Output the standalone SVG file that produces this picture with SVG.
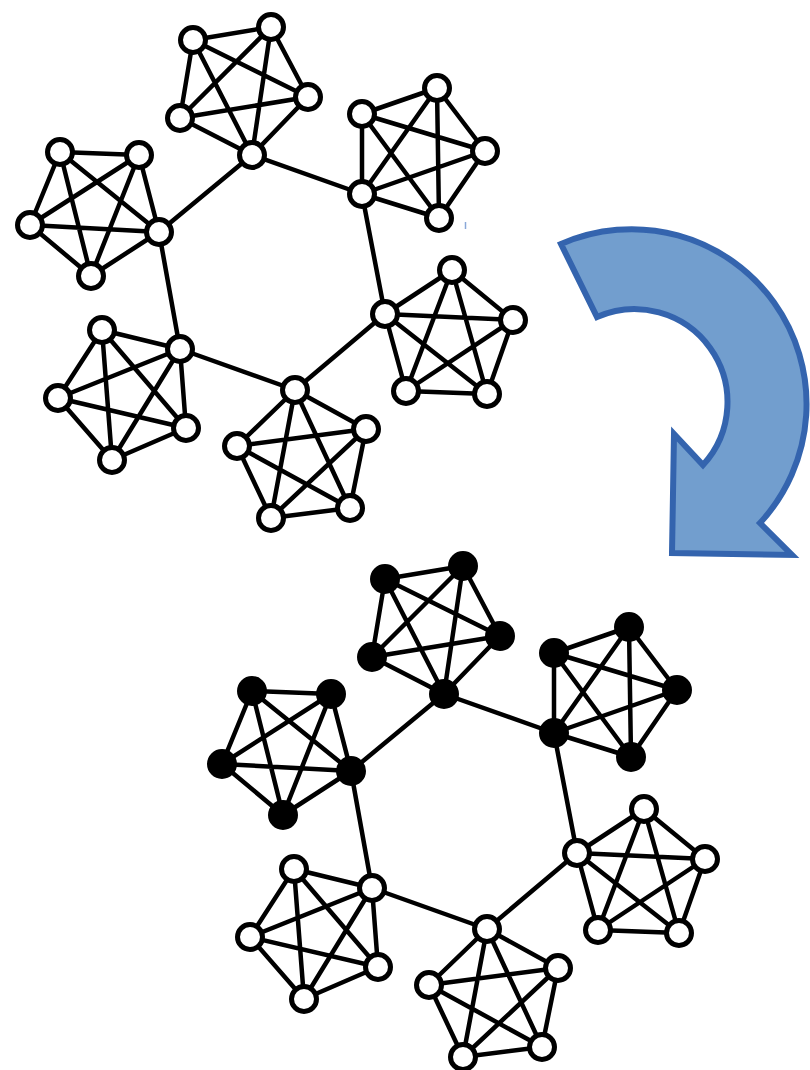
<svg xmlns="http://www.w3.org/2000/svg" width="810" height="1070" viewBox="0 0 810 1070">
<style>
.e{fill:none;stroke:#000;stroke-width:4.5;stroke-linejoin:round;stroke-linecap:round}
.w{fill:#fff;stroke:#000;stroke-width:5}
.b{fill:#000;stroke:#000;stroke-width:5}
.arrow{fill:#729ECE;stroke:#3464AE;stroke-width:6;stroke-linejoin:miter}
</style>
<defs>
<g id="edges">
<path class="e" d="M252,155L362,194L385,314L295,390L180,349L159,232Z"/>
<path class="e" d="M193,40L271,27L308,97L252,155L180,118Z M193,40L308,97L180,118L271,27L252,155Z"/>
<path class="e" d="M60,152L139,155L159,232L91,276L30,225Z M60,152L159,232L30,225L139,155L91,276Z"/>
<path class="e" d="M362,114L437,88L485,151L439,218L362,194Z M362,114L485,151L362,194L437,88L439,218Z"/>
<path class="e" d="M452,270L513,320L487,394L406,391L385,314Z M452,270L487,394L385,314L513,320L406,391Z"/>
<path class="e" d="M295,390L366,429L350,508L271,518L237,446Z M295,390L350,508L237,446L366,429L271,518Z"/>
<path class="e" d="M102,330L180,349L186,428L112,460L58,398Z M102,330L186,428L58,398L180,349L112,460Z"/>
</g>
</defs>
<g id="connectors">
<use id="edges-top" href="#edges"/>
<use id="edges-bottom" href="#edges" transform="translate(192,539)"/>
</g>
<g id="top-graph">
<g id="t-clusterA"><circle class="w" cx="193" cy="40" r="12.5"/><circle class="w" cx="271" cy="27" r="12.5"/><circle class="w" cx="308" cy="97" r="12.5"/><circle class="w" cx="252" cy="155" r="12.5"/><circle class="w" cx="180" cy="118" r="12.5"/></g>
<g id="t-clusterB"><circle class="w" cx="60" cy="152" r="12.5"/><circle class="w" cx="139" cy="155" r="12.5"/><circle class="w" cx="159" cy="232" r="12.5"/><circle class="w" cx="91" cy="276" r="12.5"/><circle class="w" cx="30" cy="225" r="12.5"/></g>
<g id="t-clusterC"><circle class="w" cx="362" cy="114" r="12.5"/><circle class="w" cx="437" cy="88" r="12.5"/><circle class="w" cx="485" cy="151" r="12.5"/><circle class="w" cx="439" cy="218" r="12.5"/><circle class="w" cx="362" cy="194" r="12.5"/></g>
<g id="t-clusterD"><circle class="w" cx="452" cy="270" r="12.5"/><circle class="w" cx="513" cy="320" r="12.5"/><circle class="w" cx="487" cy="394" r="12.5"/><circle class="w" cx="406" cy="391" r="12.5"/><circle class="w" cx="385" cy="314" r="12.5"/></g>
<g id="t-clusterE"><circle class="w" cx="295" cy="390" r="12.5"/><circle class="w" cx="366" cy="429" r="12.5"/><circle class="w" cx="350" cy="508" r="12.5"/><circle class="w" cx="271" cy="518" r="12.5"/><circle class="w" cx="237" cy="446" r="12.5"/></g>
<g id="t-clusterF"><circle class="w" cx="102" cy="330" r="12.5"/><circle class="w" cx="180" cy="349" r="12.5"/><circle class="w" cx="186" cy="428" r="12.5"/><circle class="w" cx="112" cy="460" r="12.5"/><circle class="w" cx="58" cy="398" r="12.5"/></g>
</g>
<g id="bottom-graph" transform="translate(192,539)">
<g id="b-clusterA"><circle class="b" cx="193" cy="40" r="12.5"/><circle class="b" cx="271" cy="27" r="12.5"/><circle class="b" cx="308" cy="97" r="12.5"/><circle class="b" cx="252" cy="155" r="12.5"/><circle class="b" cx="180" cy="118" r="12.5"/></g>
<g id="b-clusterB"><circle class="b" cx="60" cy="152" r="12.5"/><circle class="b" cx="139" cy="155" r="12.5"/><circle class="b" cx="159" cy="232" r="12.5"/><circle class="b" cx="91" cy="276" r="12.5"/><circle class="b" cx="30" cy="225" r="12.5"/></g>
<g id="b-clusterC"><circle class="b" cx="362" cy="114" r="12.5"/><circle class="b" cx="437" cy="88" r="12.5"/><circle class="b" cx="485" cy="151" r="12.5"/><circle class="b" cx="439" cy="218" r="12.5"/><circle class="b" cx="362" cy="194" r="12.5"/></g>
<g id="b-clusterD"><circle class="w" cx="452" cy="270" r="12.5"/><circle class="w" cx="513" cy="320" r="12.5"/><circle class="w" cx="487" cy="394" r="12.5"/><circle class="w" cx="406" cy="391" r="12.5"/><circle class="w" cx="385" cy="314" r="12.5"/></g>
<g id="b-clusterE"><circle class="w" cx="295" cy="390" r="12.5"/><circle class="w" cx="366" cy="429" r="12.5"/><circle class="w" cx="350" cy="508" r="12.5"/><circle class="w" cx="271" cy="518" r="12.5"/><circle class="w" cx="237" cy="446" r="12.5"/></g>
<g id="b-clusterF"><circle class="w" cx="102" cy="330" r="12.5"/><circle class="w" cx="180" cy="349" r="12.5"/><circle class="w" cx="186" cy="428" r="12.5"/><circle class="w" cx="112" cy="460" r="12.5"/><circle class="w" cx="58" cy="398" r="12.5"/></g>
</g>
<g id="arrow">
<path class="arrow" d="M561,244 A175,175 0 0 1 760,523 L792,555 L672,553 L674,434 L703,465 A93,93 0 0 0 597,317 Z"/>
</g>
<line x1="465.5" y1="222" x2="465.5" y2="229" stroke="#8AA8D8" stroke-width="1.5"/>
</svg>
